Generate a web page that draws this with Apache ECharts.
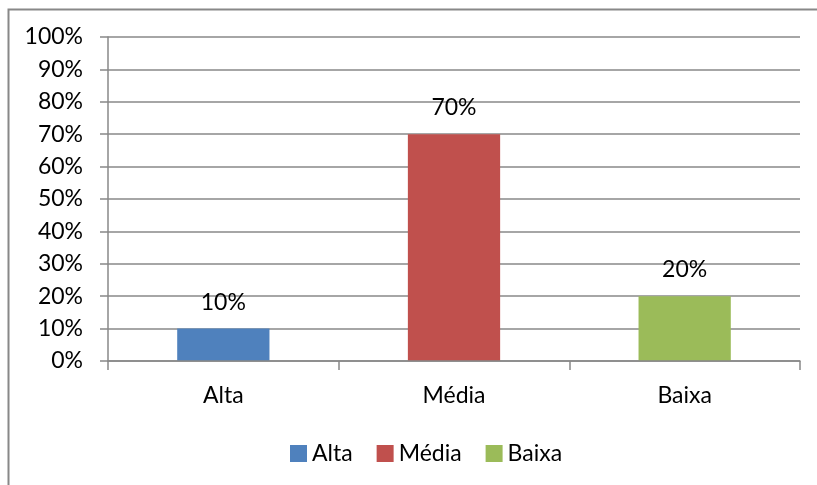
<!DOCTYPE html>
<html>
<head>
<meta charset="utf-8">
<script src="https://cdn.jsdelivr.net/npm/echarts@6/dist/echarts.min.js"></script>
<style>
  html, body { margin: 0; padding: 0; background: #fff; }
  #chart { width: 817px; height: 485px; }
</style>
</head>
<body>
<div id="chart"></div>
<script>
// Priority levels and their share of responses (%)
const categories = ['Alta', 'Média', 'Baixa'];
const values = [10, 70, 20];
const colors = ['#4F81BD', '#C0504D', '#9BBB59'];
const yTicks = { min: 0, max: 100, interval: 10 };

const FONT = 'Lato';
const FONT_SIZE = 23;
const TEXT = '#000';
const GRID_LINE = '#888';

// One series per category, stacked so each bar sits centred on its own slot
const series = categories.map((name, i) => ({
  name,
  type: 'bar',
  stack: 'all',
  barWidth: '40%',
  data: categories.map((_, j) => (j === i ? values[i] : '-')),
  itemStyle: { color: colors[i] },
  label: {
    show: true,
    position: 'top',
    distance: 15,
    formatter: p => p.value + '%',
    color: TEXT,
    fontFamily: FONT,
    fontSize: FONT_SIZE
  }
}));

const chart = echarts.init(document.getElementById('chart'), null, { renderer: 'canvas' });
chart.setOption({
  animation: false,
  backgroundColor: '#fff',
  grid: { left: 108, right: 17, top: 37, bottom: 124 },
  legend: {
    data: categories,
    bottom: 15,
    left: 285,
    itemWidth: 17,
    itemHeight: 17,
    itemGap: 24,
    icon: 'rect',
    textStyle: { color: TEXT, fontFamily: FONT, fontSize: FONT_SIZE }
  },
  xAxis: {
    type: 'category',
    data: categories,
    z: 5,
    axisLine: { lineStyle: { color: GRID_LINE, width: 1.5 } },
    axisTick: { show: true, length: 9, lineStyle: { color: GRID_LINE, width: 1.5 } },
    axisLabel: { color: TEXT, fontFamily: FONT, fontSize: FONT_SIZE, margin: 23 }
  },
  yAxis: {
    type: 'value',
    min: yTicks.min,
    max: yTicks.max,
    interval: yTicks.interval,
    axisLine: { show: true, lineStyle: { color: GRID_LINE, width: 1.5 } },
    axisTick: { show: true, length: 8, lineStyle: { color: GRID_LINE, width: 1.5 } },
    axisLabel: { formatter: '{value}%', color: TEXT, fontFamily: FONT, fontSize: FONT_SIZE, margin: 25 },
    splitLine: { show: true, lineStyle: { color: GRID_LINE, width: 1.5 } }
  },
  graphic: [{
    type: 'rect',
    left: 6, top: 7,
    shape: { width: 830, height: 500 },
    style: { fill: 'none', stroke: '#888', lineWidth: 2 },
    silent: true
  }],
  series
});
</script>
</body>
</html>
